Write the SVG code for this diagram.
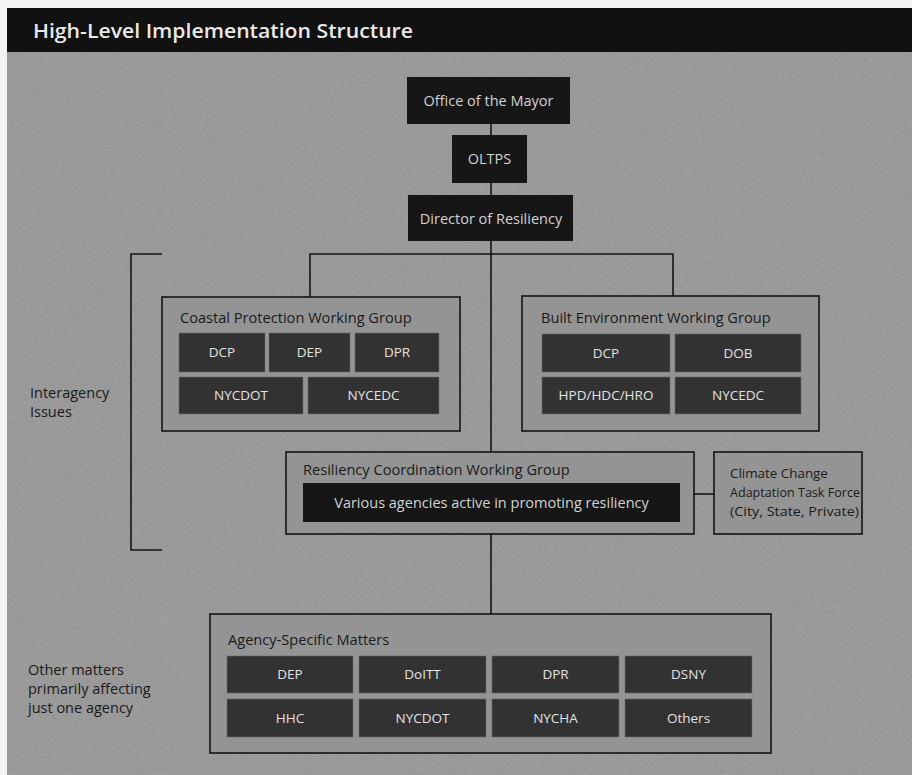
<svg xmlns="http://www.w3.org/2000/svg" width="912" height="775" viewBox="0 0 912 775">
<defs>
<filter id="noise" x="0" y="0" width="100%" height="100%">
<feTurbulence type="fractalNoise" baseFrequency="0.9" numOctaves="2" seed="3" result="t"/>
<feColorMatrix in="t" type="matrix" values="0 0 0 0 0.55  0 0 0 0 0.55  0 0 0 0 0.55  0 0 0 0.35 0" result="n"/>
<feComposite in="n" in2="SourceGraphic" operator="in" result="m"/>
<feMerge><feMergeNode in="SourceGraphic"/><feMergeNode in="m"/></feMerge>
</filter>
<style>
text{font-family:"Open Sans","Noto Sans","Liberation Sans",sans-serif}
.blk{fill:#161616}
.cell{fill:#323232;stroke:#6a6a6a;stroke-width:0.6}
.grp{fill:#949494;stroke:#141414;stroke-width:1.6}
.lt{fill:#d2d2d2;font-size:14.5px;text-anchor:middle}
.ct{fill:#e2e2e2;font-size:13.5px;text-anchor:middle}
.gt{fill:#1a1a1a;font-size:14.6px}
.tf{fill:#1a1a1a;font-size:13.4px}
.side{fill:#1a1a1a;font-size:14.5px}
.ln{stroke:#141414;stroke-width:1.6;fill:none}
</style>
</defs>
<rect x="0" y="0" width="912" height="775" fill="#f4f4f4"/>
<rect x="7" y="8" width="905" height="767" fill="#8f8f8f" filter="url(#noise)"/>
<g id="title">
<rect x="7" y="8" width="905" height="44" fill="#111111"/>
<text x="33" y="38" fill="#e8e8e8" font-size="20.5" font-weight="600" textLength="380" lengthAdjust="spacingAndGlyphs">High-Level Implementation Structure</text>
</g>
<g id="connectors">
<line class="ln" x1="491" y1="124" x2="491" y2="135"/>
<line class="ln" x1="491" y1="183" x2="491" y2="195"/>
<line class="ln" x1="491" y1="241" x2="491" y2="452"/>
<polyline class="ln" points="310,297 310,254 673,254 673,296"/>
<line class="ln" x1="491" y1="534" x2="491" y2="614"/>
<line class="ln" x1="694" y1="494" x2="714" y2="494"/>
<polyline class="ln" points="162,254 131,254 131,550 162,550"/>
</g>
<g id="mayor">
<rect class="blk" x="407" y="77" width="163" height="47"/>
<text class="lt" x="488.5" y="106">Office of the Mayor</text>
</g>
<g id="oltps">
<rect class="blk" x="452" y="135" width="75" height="48"/>
<text class="lt" x="489.5" y="164" font-size="14">OLTPS</text>
</g>
<g id="director">
<rect class="blk" x="408" y="195" width="165" height="46"/>
<text class="lt" x="491" y="224">Director of Resiliency</text>
</g>
<g id="interagency">
<text class="side" x="30" y="398" font-size="13.6">Interagency</text>
<text class="side" x="30" y="417" font-size="13.6">Issues</text>
</g>
<g id="coastal">
<rect class="grp" x="162" y="297" width="298" height="134"/>
<text class="gt" x="180" y="323">Coastal Protection Working Group</text>
<rect class="cell" x="179" y="333" width="86" height="39"/>
<text class="ct" x="222" y="357">DCP</text>
<rect class="cell" x="269" y="333" width="81" height="39"/>
<text class="ct" x="309.5" y="357">DEP</text>
<rect class="cell" x="355" y="333" width="84" height="39"/>
<text class="ct" x="397" y="357">DPR</text>
<rect class="cell" x="179" y="377" width="124" height="37"/>
<text class="ct" x="241" y="400">NYCDOT</text>
<rect class="cell" x="308" y="377" width="131" height="37"/>
<text class="ct" x="373.5" y="400">NYCEDC</text>
</g>
<g id="built">
<rect class="grp" x="522" y="296" width="297" height="135"/>
<text class="gt" x="541" y="323">Built Environment Working Group</text>
<rect class="cell" x="542" y="334" width="128" height="38"/>
<text class="ct" x="606" y="358">DCP</text>
<rect class="cell" x="675" y="334" width="126" height="38"/>
<text class="ct" x="738" y="358">DOB</text>
<rect class="cell" x="542" y="377" width="128" height="37"/>
<text class="ct" x="606" y="400">HPD/HDC/HRO</text>
<rect class="cell" x="675" y="377" width="126" height="37"/>
<text class="ct" x="738" y="400">NYCEDC</text>
</g>
<g id="coordination">
<rect class="grp" x="286" y="452" width="408" height="82"/>
<text class="gt" x="303" y="475">Resiliency Coordination Working Group</text>
<rect class="blk" x="303" y="483" width="377" height="39"/>
<text class="lt" x="491.5" y="508" font-size="15.2">Various agencies active in promoting resiliency</text>
</g>
<g id="taskforce">
<rect class="grp" x="714" y="452" width="148" height="82"/>
<text class="tf" x="730" y="478">Climate Change</text>
<text class="tf" x="730" y="497" textLength="130" lengthAdjust="spacingAndGlyphs">Adaptation Task Force</text>
<text class="tf" x="730" y="516" textLength="129" lengthAdjust="spacingAndGlyphs">(City, State, Private)</text>
</g>
<g id="other">
<text class="side" x="28" y="675">Other matters</text>
<text class="side" x="28" y="694">primarily affecting</text>
<text class="side" x="28" y="713">just one agency</text>
</g>
<g id="agency">
<rect class="grp" x="210" y="614" width="561" height="139"/>
<text class="gt" x="228" y="645">Agency-Specific Matters</text>
<rect class="cell" x="227" y="656" width="126" height="37"/>
<text class="ct" x="290" y="679">DEP</text>
<rect class="cell" x="359" y="656" width="127" height="37"/>
<text class="ct" x="422.5" y="679">DoITT</text>
<rect class="cell" x="492" y="656" width="127" height="37"/>
<text class="ct" x="555.5" y="679">DPR</text>
<rect class="cell" x="625" y="656" width="127" height="37"/>
<text class="ct" x="688.5" y="679">DSNY</text>
<rect class="cell" x="227" y="699" width="126" height="38"/>
<text class="ct" x="290" y="723">HHC</text>
<rect class="cell" x="359" y="699" width="127" height="38"/>
<text class="ct" x="422.5" y="723">NYCDOT</text>
<rect class="cell" x="492" y="699" width="127" height="38"/>
<text class="ct" x="555.5" y="723">NYCHA</text>
<rect class="cell" x="625" y="699" width="127" height="38"/>
<text class="ct" x="688.5" y="723">Others</text>
</g>
</svg>
